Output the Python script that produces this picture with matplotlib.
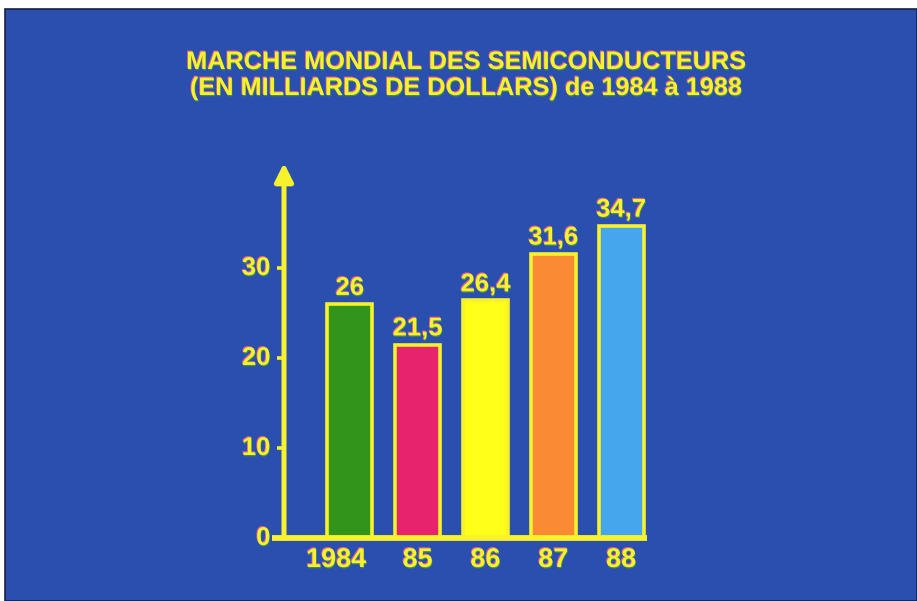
import matplotlib
matplotlib.use("Agg")
import matplotlib.pyplot as plt
import matplotlib.patheffects as pe
from matplotlib.patches import Rectangle

# Semiconductor world market, billions of dollars
years = ["1984", "85", "86", "87", "88"]
values = [26, 21.5, 26.4, 31.6, 34.7]
value_labels = ["26", "21,5", "26,4", "31,6", "34,7"]
bar_colors = ["#33941c", "#e8236e", "#ffff1a", "#fb8a35", "#45a6ee"]
yticks = [0, 10, 20, 30]
title_lines = ["MARCHE MONDIAL DES SEMICONDUCTEURS",
               "(EN MILLIARDS DE DOLLARS) de 1984 à 1988"]

BG = "#2a4fae"
YEL = "#f8f22c"
FONT = "Liberation Sans"

W, H = 917, 601
fig = plt.figure(figsize=(W / 100, H / 100), dpi=100, facecolor="white")

# blue board with a thin dark edge, leaving a white margin top and left
board = Rectangle((5 / W, 0), 1 - 5 / W, (H - 9) / H, transform=fig.transFigure,
                  facecolor=BG, edgecolor="#1a2240", linewidth=1.2, zorder=-10)
fig.patches.append(board)

fx = [pe.SimplePatchShadow(offset=(-0.6, 0.8), shadow_rgbFace="#e85c9c", alpha=0.9),
      pe.SimplePatchShadow(offset=(0.4, -0.9), shadow_rgbFace="#3f9e3a", alpha=0.8),
      pe.Normal()]

# plot area: x axis at pixel row 538, top of axes at pixel row 175
x0_px, x1_px = 284, 647
y0_px, ytop_px = 538, 175
px_per_unit = 9.0
ax = fig.add_axes([x0_px / W, (H - y0_px) / H, (x1_px - x0_px) / W, (y0_px - ytop_px) / H])
ax.set_zorder(5)
ax.set_facecolor("none")
xmin, xmax = -0.97, 4.38
ax.set_xlim(xmin, xmax)
ax.set_ylim(0, (y0_px - ytop_px) / px_per_unit)
ax.axis("off")

xs = list(range(len(values)))
ax.bar(xs, values, width=0.66, color=bar_colors, edgecolor=YEL, linewidth=2.6, zorder=3)

# value labels
for x, v, lab in zip(xs, values, value_labels):
    ax.text(x, v + 0.45, lab, ha="center", va="bottom", fontsize=18.5, color=YEL,
            family=FONT, fontweight="bold", path_effects=fx, zorder=5)

# y axis with arrow head
ax.annotate("", xy=(xmin, (y0_px - 163) / px_per_unit), xytext=(xmin, 0),
            xycoords="data", annotation_clip=False,
            arrowprops=dict(arrowstyle="-|>,head_length=1.1,head_width=0.55",
                            color=YEL, lw=3.6, shrinkA=0, shrinkB=0), zorder=4)

# baseline extends a little to the left of the y axis
ax.plot([xmin - 0.17, xmax], [0, 0], color=YEL, lw=4.2, solid_capstyle="butt",
        clip_on=False, zorder=4)

# tick stubs and labels
for t in yticks:
    if t > 0:
        ax.plot([xmin - 0.11, xmin], [t, t], color=YEL, lw=2.6, solid_capstyle="butt",
                clip_on=False, zorder=4)
    ax.text(xmin - 0.2, t, str(t), ha="right", va="center", fontsize=18.5, color=YEL,
            family=FONT, fontweight="bold", path_effects=fx, clip_on=False)

# category labels
for x, lab in zip(xs, years):
    dx = -0.2 if lab == "1984" else 0
    ax.text(x + dx, -1.0, lab, ha="center", va="top", fontsize=19.5, color=YEL,
            family=FONT, fontweight="bold", path_effects=fx, clip_on=False)

# title
for i, line in enumerate(title_lines):
    fig.text(466 / W, 1 - (69 + 26 * i) / H, line, ha="center", va="baseline",
             fontsize=18.2, color=YEL, family=FONT, fontweight="bold", path_effects=fx)

fig.savefig("out.png", dpi=100, facecolor="white")
